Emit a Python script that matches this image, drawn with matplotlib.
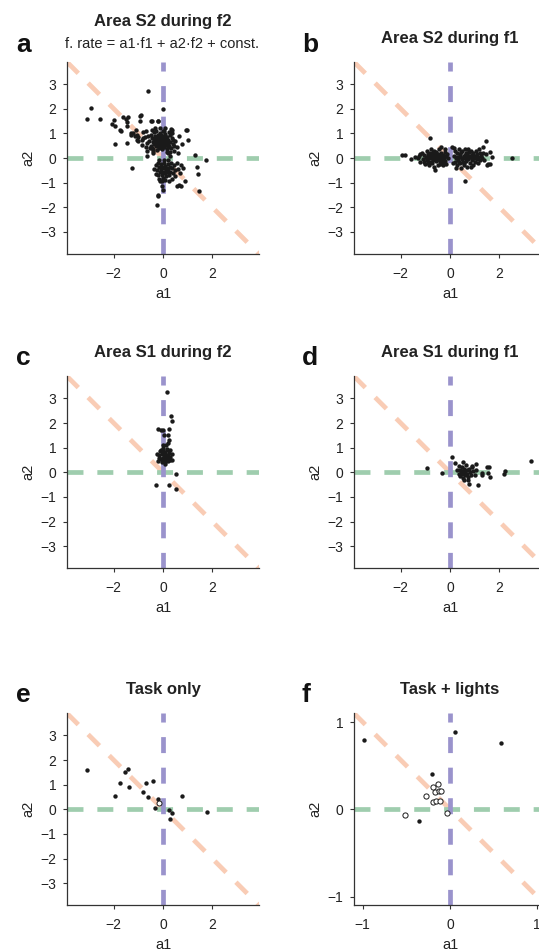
import matplotlib
matplotlib.use("Agg")
import matplotlib.pyplot as plt
import numpy as np

plt.rcParams['font.family'] = ['Liberation Sans', 'DejaVu Sans']
plt.rcParams['lines.scale_dashes'] = False

# ---------------- data (a1, a2) ----------------
a_S2_f2 = [
    (-0.61, 2.72), (0.01, 1.99), (-2.94, 2.05), (-3.09, 1.59), (-2.54, 1.59), (-1.99, 1.55), (-2.09, 1.38),
    (-1.62, 1.65), (-1.52, 1.58), (-1.41, 1.65), (-1.45, 1.45), (-0.91, 1.73), (-0.94, 1.50), (-0.46, 1.51),
    (-0.19, 1.51), (-0.22, 1.52), (-1.93, 1.28), (-1.69, 1.08), (-1.75, 1.12), (-1.48, 1.28), (-1.96, 0.58),
    (-1.48, 0.61), (-1.27, -0.42), (0.97, 1.12), (1.03, 0.74), (0.76, 0.57), (0.35, 1.15), (1.28, 0.11),
    (1.76, -0.09), (1.37, -0.38), (1.44, -0.65), (1.47, -1.35), (0.83, -0.41), (0.73, -1.12), (0.56, -1.15),
    (-0.22, -1.55), (-0.23, -1.92), (0.90, -0.95), (0.63, -1.08), (-0.12, -0.95), (-0.05, -1.15), (0.01, -1.28),
    (-0.19, -1.51), (-0.94, 1.69), (-0.49, 1.51), (0.08, 1.22), (0.33, 1.19), (0.94, 1.12), (0.42, 0.74),
    (0.63, 0.88), (0.46, 0.47), (-0.67, 0.07), (-0.39, 0.20), (-0.46, 0.41), (-0.87, 0.74), (-1.07, 0.95),
    (0.22, 0.20), (0.29, 0.07), (-1.20, 1.00), (-1.10, 1.15), (-0.80, 1.05), (-0.75, 0.85), (-1.30, 0.92),
    (-1.00, 0.85), (-1.28, 1.01), (-1.14, 0.88), (-1.07, 0.74), (-1.00, 0.68), (-0.87, 0.54), (-0.80, 0.81),
    (-0.69, 1.08), (-0.46, 1.15), (-0.53, 0.41), (-0.67, 0.27), (-0.39, 0.27),
    # upper core
    (-0.50, 0.95), (-0.45, 0.80), (-0.42, 0.65), (-0.38, 1.05), (-0.35, 0.55), (-0.33, 0.90), (-0.30, 0.72),
    (-0.28, 0.48), (-0.27, 1.10), (-0.25, 0.85), (-0.22, 0.62), (-0.20, 0.95), (-0.18, 0.75), (-0.17, 0.42),
    (-0.15, 0.58), (-0.14, 1.02), (-0.12, 0.82), (-0.10, 0.68), (-0.08, 0.50), (-0.07, 0.90), (-0.05, 0.62),
    (-0.04, 0.78), (-0.02, 1.08), (0.00, 0.55), (0.02, 0.70), (0.03, 0.88), (0.05, 0.45), (0.07, 0.62),
    (0.08, 0.80), (0.10, 0.97), (0.12, 0.52), (0.14, 0.70), (0.16, 0.38), (0.18, 0.85), (0.20, 0.60),
    (0.22, 0.75), (0.25, 0.50), (0.27, 0.92), (0.30, 0.65), (0.33, 0.42), (0.36, 0.80), (0.40, 0.58),
    (-0.55, 0.70), (-0.60, 0.88), (-0.48, 0.50), (-0.40, 0.38), (-0.32, 1.20), (-0.24, 0.32), (-0.11, 1.20),
    (0.05, 1.10), (-0.30, 0.60), (-0.20, 0.50), (-0.10, 0.58), (0.00, 0.82), (0.10, 0.72), (0.15, 0.58),
    (-0.05, 0.70), (-0.15, 0.68), (-0.25, 0.70), (-0.35, 0.78), (-0.18, 0.88), (-0.08, 0.95), (0.05, 0.60),
    (-0.02, 0.50), (0.12, 0.85), (0.20, 0.45), (0.45, 0.30), (0.50, 0.70), (0.55, 0.45), (0.60, 0.20),
    (-0.65, 0.60), (-0.70, 0.45), (0.30, 0.25), (0.15, 0.25), (-0.05, 0.35), (0.38, 1.00), (0.25, 1.05),
    # lower core
    (-0.30, -0.30), (-0.25, -0.50), (-0.22, -0.20), (-0.20, -0.70), (-0.18, -0.38), (-0.15, -0.85),
    (-0.12, -0.55), (-0.10, -0.25), (-0.08, -0.45), (-0.05, -0.68), (-0.03, -0.35), (0.00, -0.55),
    (0.02, -0.80), (0.04, -0.22), (0.06, -0.42), (0.08, -0.62), (0.10, -0.32), (0.12, -0.50), (0.14, -0.75),
    (0.16, -0.40), (0.18, -0.58), (0.20, -0.25), (0.22, -0.45), (0.25, -0.68), (0.27, -0.35), (0.30, -0.55),
    (0.33, -0.20), (0.36, -0.42), (0.40, -0.62), (0.45, -0.30), (0.50, -0.50), (0.55, -0.20), (0.48, -0.75),
    (0.60, -0.45), (0.35, -0.85), (0.10, -0.90), (-0.05, -0.95), (0.25, -0.95), (-0.35, -0.45), (-0.28, -0.65),
    (0.68, -0.60), (0.72, -0.30), (0.05, -0.10), (-0.15, -0.10), (0.20, -0.10),
]

b_S2_f1 = [
    (-0.82, 0.82), (2.52, 0.00), (1.46, 0.70), (1.36, 0.43), (1.63, 0.26), (0.61, -0.93), (-0.61, -0.47),
    (-1.97, 0.12), (-1.81, 0.12), (-1.59, -0.05), (-1.43, 0.05), (1.56, -0.26), (1.62, -0.26), (1.50, -0.30),
    (0.10, 0.46), (-0.35, 0.46), (-1.20, 0.15), (-1.30, 0.00), (1.70, 0.05),
    # left cluster
    (-1.25, 0.10), (-1.20, -0.15), (-1.15, 0.20), (-1.10, -0.05), (-1.05, 0.12), (-1.00, -0.25), (-0.98, 0.05),
    (-0.95, 0.28), (-0.92, -0.10), (-0.90, 0.15), (-0.87, -0.30), (-0.85, 0.00), (-0.82, 0.22), (-0.80, -0.15),
    (-0.78, 0.35), (-0.75, 0.08), (-0.72, -0.22), (-0.70, 0.18), (-0.68, -0.05), (-0.65, 0.30), (-0.63, -0.35),
    (-0.60, 0.10), (-0.58, -0.12), (-0.55, 0.25), (-0.53, 0.02), (-0.50, -0.28), (-0.48, 0.15), (-0.45, -0.08),
    (-0.43, 0.35), (-0.40, 0.05), (-0.38, -0.20), (-0.35, 0.20), (-0.33, -0.05), (-0.30, 0.12), (-0.28, -0.30),
    (-0.25, 0.00), (-0.22, 0.25), (-0.20, -0.12), (-0.18, 0.08), (-0.15, -0.25), (-0.12, 0.15), (-0.10, -0.02),
    (-0.80, 0.05), (-0.70, -0.10), (-0.60, 0.00), (-0.50, 0.08), (-0.40, -0.12), (-0.65, 0.12), (-0.55, -0.05),
    (-0.45, 0.02), (-0.75, -0.02), (-0.85, 0.10), (-0.35, 0.08), (-0.30, -0.15), (-1.05, -0.15), (-0.95, -0.05),
    (-0.70, 0.25), (-0.90, -0.20), (-0.58, 0.18), (-0.42, -0.25), (-0.20, 0.38),
    # right cluster
    (0.15, 0.10), (0.20, -0.15), (0.22, 0.30), (0.25, 0.00), (0.28, -0.30), (0.30, 0.20), (0.33, -0.08),
    (0.35, 0.38), (0.38, 0.05), (0.40, -0.22), (0.42, 0.15), (0.45, -0.40), (0.48, 0.00), (0.50, 0.28),
    (0.52, -0.15), (0.55, 0.10), (0.58, -0.30), (0.60, 0.35), (0.62, 0.00), (0.65, -0.12), (0.68, 0.20),
    (0.70, -0.35), (0.72, 0.08), (0.75, -0.05), (0.78, 0.25), (0.80, -0.20), (0.82, 0.05), (0.85, 0.30),
    (0.88, -0.10), (0.90, 0.12), (0.93, -0.28), (0.95, 0.20), (0.98, 0.00), (1.00, -0.15), (1.03, 0.10),
    (1.05, 0.28), (1.08, -0.05), (1.10, 0.15), (1.13, -0.20), (1.15, 0.05), (1.20, 0.22), (1.22, -0.10),
    (1.25, 0.10), (1.30, 0.00), (1.35, 0.20), (1.40, -0.08), (0.30, 0.05), (0.40, 0.10), (0.50, -0.05),
    (0.60, 0.12), (0.70, 0.00), (0.80, 0.10), (0.90, -0.02), (0.45, 0.25), (0.55, -0.22), (0.65, 0.22),
    (0.35, -0.18), (1.18, 0.35), (0.75, 0.38), (0.25, -0.40), (0.85, -0.38), (1.45, 0.15), (0.12, -0.20),
    (0.18, 0.42),
]

c_S1_f2 = [
    (0.15, 3.28), (0.33, 2.27), (0.38, 2.09), (-0.19, 1.77), (0.01, 1.71), (-0.08, 1.73), (0.26, 1.75),
    (0.05, 1.50), (0.19, 1.50), (0.24, 1.33), (0.53, -0.08), (-0.29, -0.53), (0.26, -0.53), (0.53, -0.69),
    (-0.20, 0.45), (-0.15, 0.70), (-0.10, 0.55), (-0.08, 0.90), (-0.05, 0.40), (-0.03, 0.75), (0.00, 0.60),
    (0.02, 1.00), (0.04, 0.48), (0.06, 0.82), (0.08, 0.65), (0.10, 0.40), (0.12, 1.10), (0.14, 0.72),
    (0.16, 0.55), (0.18, 0.90), (0.20, 0.45), (0.22, 0.68), (0.25, 0.80), (0.28, 0.50), (0.30, 0.62),
    (0.35, 0.48), (-0.12, 0.85), (-0.18, 0.60), (0.05, 0.62), (0.10, 0.78), (-0.02, 0.85), (0.15, 0.95),
    (0.00, 1.12), (0.30, 0.90), (-0.25, 0.75), (0.20, 1.20), (0.38, 0.75), (-0.05, 0.52), (0.08, 0.35),
]

d_S1_f1 = [
    (3.31, 0.46), (-0.95, 0.19), (-0.34, -0.01), (0.07, 0.62), (0.20, 0.39), (0.54, 0.43), (0.78, -0.47),
    (1.13, -0.51), (1.05, 0.32), (1.50, 0.23), (1.59, 0.20), (1.63, -0.21), (1.56, -0.01), (1.29, -0.04),
    (1.32, -0.13), (2.22, 0.05), (2.18, -0.08),
    (0.30, 0.10), (0.35, -0.05), (0.38, 0.25), (0.42, -0.15), (0.45, 0.05), (0.50, 0.20), (0.52, -0.25),
    (0.55, 0.00), (0.58, 0.12), (0.60, -0.10), (0.65, 0.30), (0.68, -0.05), (0.70, 0.08), (0.75, -0.20),
    (0.78, 0.15), (0.82, 0.00), (0.85, -0.12), (0.90, 0.20), (0.95, 0.05), (1.00, -0.10), (1.05, 0.10),
    (0.40, 0.10), (0.48, -0.08), (0.62, 0.05), (0.72, -0.30), (0.55, -0.30), (0.88, 0.25),
]

e_task_filled = [
    (-3.07, 1.60), (-1.96, 0.56), (-1.73, 1.06), (-1.55, 1.53), (-1.44, 1.64), (-1.37, 0.91), (-0.83, 0.72),
    (-0.69, 1.06), (-0.60, 0.49), (-0.42, 1.15), (-0.33, 0.04), (-0.22, 0.41), (0.24, -0.04), (0.38, -0.16),
    (0.29, -0.41), (0.78, 0.54), (1.78, -0.12),
]
e_task_open = [(-0.15, 0.24)]

f_lights_filled = [(-0.98, 0.79), (0.06, 0.89), (0.58, 0.76), (-0.21, 0.40), (-0.36, -0.13)]
f_lights_open = [
    (-0.52, -0.06), (-0.27, 0.15), (-0.20, 0.26), (-0.14, 0.29), (-0.17, 0.20), (-0.13, 0.21), (-0.10, 0.21),
    (-0.20, 0.08), (-0.16, 0.09), (-0.11, 0.09), (-0.03, -0.04),
]

titles = ["Area S2 during f2", "Area S2 during f1", "Area S1 during f2",
          "Area S1 during f1", "Task only", "Task + lights"]
letters = ["a", "b", "c", "d", "e", "f"]
subtitle = "f. rate = a1\u00b7f1 + a2\u00b7f2 + const."
ticks_main = ([-2, 0, 2], [-3, -2, -1, 0, 1, 2, 3])
ticks_f = ([-1, 0, 1], [-1, 0, 1])

# ---------------- layout ----------------
W, H = 539, 949
fig = plt.figure(figsize=(W / 100, H / 100), dpi=100)

PEACH = '#F9CCB5'
GREEN = '#9FCDAE'
PURPLE = '#9A93CC'
DOT = '#1a1a1a'
TXT = '#222222'

centers = [(163, 158), (450, 158), (163, 472.3), (450, 472.3), (163, 809.3), (450, 809.3)]
SZ = 192


def fx(x):
    return x / W


def fy(y):
    return 1 - y / H


def make_ax(cx, cy, lim, ticks):
    ax = fig.add_axes([fx(cx - SZ / 2), fy(cy + SZ / 2), SZ / W, SZ / H])
    ax.set_xlim(-lim, lim)
    ax.set_ylim(-lim, lim)
    for s in ['top', 'right']:
        ax.spines[s].set_visible(False)
    for s in ['left', 'bottom']:
        ax.spines[s].set_linewidth(0.9)
        ax.spines[s].set_color('#333333')
    ax.set_xticks(ticks[0])
    ax.set_yticks(ticks[1])
    ax.set_xticklabels([str(t).replace('-', '\u2212') for t in ticks[0]])
    ax.set_yticklabels([str(t).replace('-', '\u2212') for t in ticks[1]])
    ax.tick_params(axis='x', length=3, width=0.8, pad=6, labelsize=10, colors='#333333', labelcolor=TXT)
    ax.tick_params(axis='y', length=3, width=0.8, pad=4.5, labelsize=10, colors='#333333', labelcolor=TXT)
    ax.set_xlabel('a1', fontsize=10.5, color=TXT, labelpad=4.5)
    ax.set_ylabel('a2', fontsize=10.5, color=TXT, labelpad=4)
    # reference lines
    ax.plot([-lim, lim], [lim, -lim], color=PEACH, lw=3.4, linestyle=(0, (11.5, 10)),
            dash_capstyle='butt', zorder=1)
    ax.plot([-lim, lim], [0, 0], color=GREEN, lw=3.4, linestyle=(0, (11.5, 10)),
            dash_capstyle='butt', zorder=1)
    ax.plot([0, 0], [lim, -lim], color=PURPLE, lw=3.4, linestyle=(5, (11.5, 10.5)),
            dash_capstyle='butt', zorder=1)
    return ax


datasets = [a_S2_f2, b_S2_f1, c_S1_f2, d_S1_f1, e_task_filled, f_lights_filled]
axes = []
for i, (cx, cy) in enumerate(centers):
    if i == 5:
        ax = make_ax(cx, cy, 1.1, ticks_f)
    else:
        ax = make_ax(cx, cy, 3.9, ticks_main)
    pts = np.array(datasets[i])
    ax.scatter(pts[:, 0], pts[:, 1], s=10, color=DOT, linewidths=0, zorder=3, clip_on=False)
    axes.append(ax)

eo = np.array(e_task_open)
axes[4].scatter(eo[:, 0], eo[:, 1], s=13, facecolor='white', edgecolor=DOT, linewidths=0.7, zorder=4)
fo = np.array(f_lights_open)
axes[5].scatter(fo[:, 0], fo[:, 1], s=14, facecolor='white', edgecolor=DOT, linewidths=0.7, zorder=4)

# titles (baseline y in pixels)
title_base = [25.7, 43.3, 356.7, 356.7, 694, 694]
for i, (cx, cy) in enumerate(centers):
    fig.text(fx(cx), fy(title_base[i]), titles[i], ha='center', va='baseline',
             fontsize=12, fontweight='bold', color=TXT)
fig.text(fx(162), fy(48.3), subtitle, ha='center', va='baseline', fontsize=10.5, color=TXT)

# panel letters
letter_pos = [(16, 52), (302, 52), (16, 365), (302, 365), (16, 702.5), (302, 701.5)]
for L, (x, y) in zip(letters, letter_pos):
    fig.text(fx(x), fy(y), L, ha='left', va='baseline', fontsize=19, fontweight='bold', color='#111111')

fig.savefig('out.png', dpi=100)
